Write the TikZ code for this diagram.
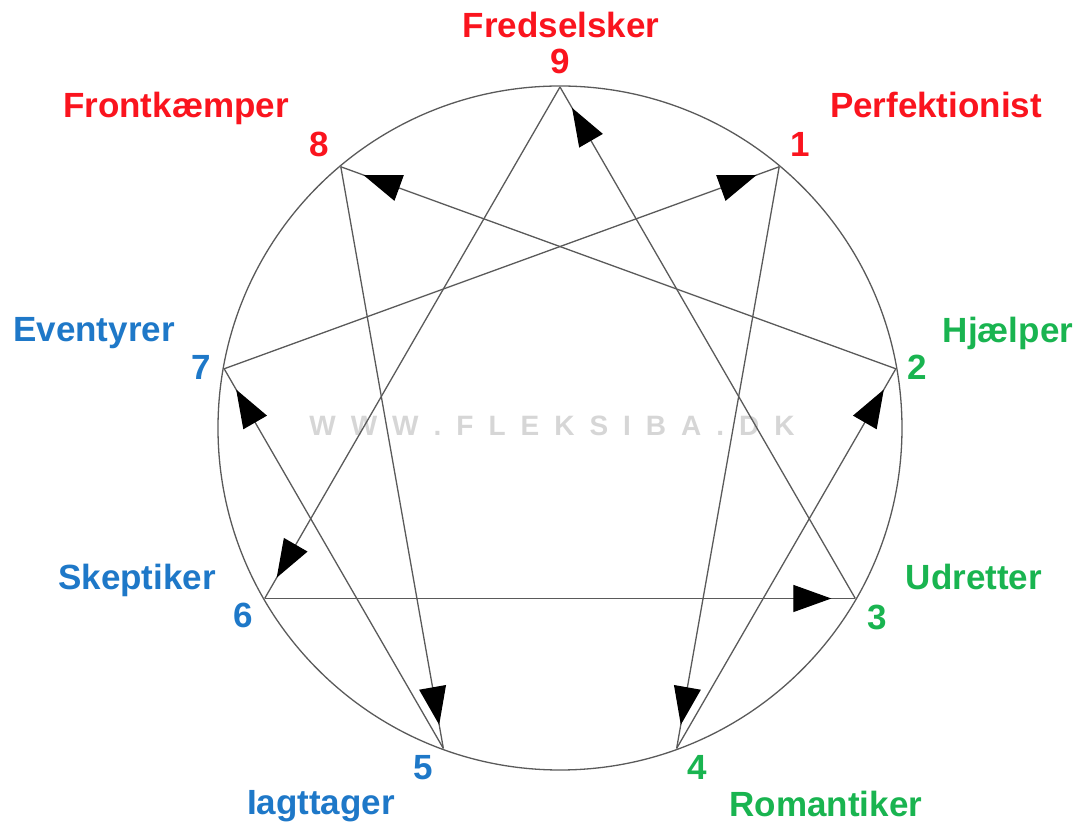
\documentclass[tikz,border=0pt]{standalone}
\usepackage{fontspec}
\setmainfont{Liberation Sans}
\usetikzlibrary{arrows.meta,decorations.markings}

\definecolor{typered}{RGB}{250,20,30}
\definecolor{typegreen}{RGB}{25,180,80}
\definecolor{typeblue}{RGB}{30,120,200}
\definecolor{linegray}{RGB}{90,90,90}

\begin{document}
\begin{tikzpicture}[x=1pt, y=1pt,
    link/.style={draw=linegray, line width=1.3pt,
      postaction={decorate, decoration={markings,
        mark=at position -24pt with {\arrow{Triangle[length=38pt, width=27pt, black]}}}}},
    label/.style={anchor=base, inner sep=0pt,
      font=\fontsize{35}{40}\selectfont\bfseries}]

    % --- Frame ---
    \useasboundingbox (-560, -398) rectangle (520, 428);

    % --- Circle and the nine points ---
    \draw[linegray, line width=1.3pt] (0, 0) circle (342);
    \foreach \n in {1,...,9}
      \coordinate (p\n) at ({90-40*\n}:341);

    % --- Watermark ---
    \node[anchor=base, text=black!16, font=\fontsize{28}{30}\selectfont\bfseries] (mark) at (-8, -8)
      {W\hspace{15pt}W\hspace{15pt}W\hspace{15pt}.\hspace{15pt}F\hspace{15pt}L\hspace{15pt}E\hspace{15pt}K\hspace{15pt}S\hspace{15pt}I\hspace{15pt}B\hspace{15pt}A\hspace{15pt}.\hspace{15pt}D\hspace{15pt}K};

    % --- Connectors ---
    % Triangle 9 -> 6 -> 3 -> 9
    \foreach \a/\b in {9/6, 6/3, 3/9}
      \draw[link] (p\a) -- (p\b);
    % Hexad 1 -> 4 -> 2 -> 8 -> 5 -> 7 -> 1
    \foreach \a/\b in {1/4, 4/2, 2/8, 8/5, 5/7, 7/1}
      \draw[link] (p\a) -- (p\b);

    % --- Numbers ---
    \node[label, typered] (n9) at (0, 354) {9};
    \node[label, typered] (n1) at (240, 271) {1};
    \node[label, typegreen] (n2) at (357, 48) {2};
    \node[label, typegreen] (n3) at (317, -202) {3};
    \node[label, typegreen] (n4) at (137, -352) {4};
    \node[label, typeblue] (n5) at (-137, -352) {5};
    \node[label, typeblue] (n6) at (-317, -200) {6};
    \node[label, typeblue] (n7) at (-359, 48) {7};
    \node[label, typered] (n8) at (-241, 271) {8};

    % --- Type names ---
    \node[label, typered] (t9) at (1, 390) {Fredselsker};
    \node[label, typered] (t1) at (376, 310) {Perfektionist};
    \node[label, typegreen] (t2) at (448, 85) {Hjælper};
    \node[label, typegreen] (t3) at (414, -162) {Udretter};
    \node[label, typegreen] (t4) at (266, -389) {Romantiker};
    \node[label, typeblue] (t5) at (-239, -387) {Iagttager};
    \node[label, typeblue] (t6) at (-423, -162) {Skeptiker};
    \node[label, typeblue] (t7) at (-466, 86) {Eventyrer};
    \node[label, typered] (t8) at (-384, 310) {Frontkæmper};

\end{tikzpicture}
\end{document}
